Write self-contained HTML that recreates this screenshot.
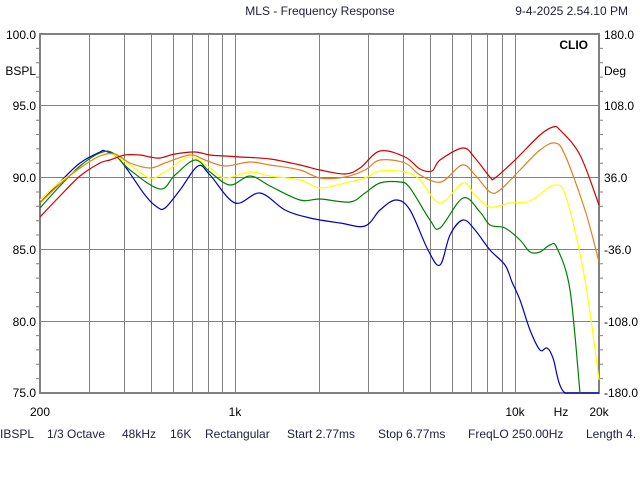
<!DOCTYPE html>
<html><head><meta charset="utf-8"><style>
html,body{margin:0;padding:0;background:#fff;}
svg{display:block;font-family:"Liberation Sans",sans-serif;}
</style></head><body>
<svg id="s" width="640" height="480" viewBox="0 0 640 480" xmlns="http://www.w3.org/2000/svg">
<rect width="640" height="480" fill="#fff"/>
<g fill="#000" font-size="12">
<text x="320" y="15" text-anchor="middle" fill="#202040">MLS - Frequency Response</text>
<text x="628" y="15" text-anchor="end" fill="#202040">9-4-2025 2.54.10 PM</text>
<text x="36" y="39" text-anchor="end">100.0</text>
<text x="36" y="75" text-anchor="end">BSPL</text>
<text x="36" y="110" text-anchor="end">95.0</text>
<text x="36" y="182" text-anchor="end">90.0</text>
<text x="36" y="254" text-anchor="end">85.0</text>
<text x="36" y="326" text-anchor="end">80.0</text>
<text x="36" y="397" text-anchor="end">75.0</text>
<text x="604" y="39">180.0</text>
<text x="604" y="75">Deg</text>
<text x="604" y="110">108.0</text>
<text x="604" y="182">36.0</text>
<text x="604" y="254">-36.0</text>
<text x="604" y="326">-108.0</text>
<text x="604" y="397">-180.0</text>
<text x="40" y="416" text-anchor="middle">200</text>
<text x="235" y="416" text-anchor="middle">1k</text>
<text x="515" y="416" text-anchor="middle">10k</text>
<text x="561" y="416" text-anchor="middle">Hz</text>
<text x="599" y="416" text-anchor="middle">20k</text>
<text x="0" y="438" fill="#202040">IBSPL</text>
<text x="47" y="438" fill="#202040">1/3 Octave</text>
<text x="122" y="438" fill="#202040">48kHz</text>
<text x="170" y="438" fill="#202040">16K</text>
<text x="205" y="438" fill="#202040">Rectangular</text>
<text x="287" y="438" fill="#202040">Start 2.77ms</text>
<text x="378" y="438" fill="#202040">Stop 6.77ms</text>
<text x="468" y="438" fill="#202040">FreqLO 250.00Hz</text>
<text x="586" y="438" fill="#202040">Length 4.</text>
</g>
<g stroke="#808080" stroke-width="1" fill="none">
<path d="M89.5 34V393M124.5 34V393M151.5 34V393M173.5 34V393M192.5 34V393M208.5 34V393M222.5 34V393M235.5 34V393M319.5 34V393M368.5 34V393M403.5 34V393M430.5 34V393M452.5 34V393M471.5 34V393M487.5 34V393M502.5 34V393M515.5 34V393"/>
<path d="M40 105.5H599M40 177.5H599M40 249.5H599M40 321.5H599"/>
<path d="M40 34H599V393H40Z" stroke-width="2"/>
<path d="M40 48.4h-4M40 62.7h-4M40 77.1h-4M40 91.4h-4M40 120.2h-4M40 134.5h-4M40 148.9h-4M40 163.2h-4M40 192h-4M40 206.3h-4M40 220.7h-4M40 235h-4M40 263.8h-4M40 278.1h-4M40 292.5h-4M40 306.8h-4M40 335.6h-4M40 349.9h-4M40 364.3h-4M40 378.6h-4M599 48.4h4M599 62.7h4M599 77.1h4M599 91.4h4M599 120.2h4M599 134.5h4M599 148.9h4M599 163.2h4M599 192h4M599 206.3h4M599 220.7h4M599 235h4M599 263.8h4M599 278.1h4M599 292.5h4M599 306.8h4M599 335.6h4M599 349.9h4M599 364.3h4M599 378.6h4"/>
</g>
<g id="curves" fill="none" stroke-width="1.2" stroke-linejoin="round">
<polyline stroke="#0000c0" points="40,203 60,182 80,163 100,152 105,151 120,160 145,195 157,207 165,208 180,190 198,166 210,175 235,203 260,193 285,210 310,218 340,223 365,226 380,210 396,200 410,210 428,250 440,265 450,235 463,220 475,230 490,250 505,265 512,282 520,300 530,330 540,350 547,348 553,358 565,393 599,393"/>
<polyline stroke="#008000" points="40,208 60,186 80,166 100,153 113,153 130,170 160,189 175,175 195,160 210,172 230,185 250,176 270,186 300,200 320,199 350,202 365,193 380,183 400,182 410,188 430,220 440,228 463,198 480,212 490,225 505,228 520,240 530,252 540,252 550,245 557,248 570,290 580,393"/>
<polyline stroke="#ffff00" points="40,200 60,182 80,168 100,156 112,154 130,165 150,178 165,172 190,157 210,168 225,178 250,172 270,176 300,180 320,188 345,183 365,178 380,171 405,172 420,180 440,203 463,183 475,195 490,207 510,203 530,201 555,185 567,200 585,280 599,380"/>
<polyline stroke="#e08020" points="40,203 60,184 80,168 100,156 115,154 130,163 150,168 165,163 190,155 205,160 225,166 250,162 270,165 300,170 320,178 345,177 365,170 380,160 405,163 420,175 441,182 462,165 475,175 490,192 500,190 520,170 540,150 555,143 565,155 585,210 599,262"/>
<polyline stroke="#d00000" points="40,217 60,196 80,176 100,163 110,160 125,155 140,155 150,157 160,158 175,154 195,152 210,155 225,156 240,157 270,159 300,165 320,170 345,174 360,168 380,151 405,157 420,169 432,171 440,160 463,148 475,158 490,177 495,178 515,160 540,135 553,127 560,130 580,155 599,205"/>
</g>
<text x="588" y="49" font-size="12" font-weight="bold" text-anchor="end" fill="#000" font-family="Liberation Sans, sans-serif">CLIO</text>
</svg>
<script>
(function(){
var NS="http://www.w3.org/2000/svg";
var pls=document.querySelectorAll('#curves polyline');
for(var i=0;i<pls.length;i++){
 var pl=pls[i];
 var pts=pl.getAttribute('points').trim().split(/\s+/).map(function(s){var a=s.split(',');return [+a[0],+a[1]];});
 var d='M'+pts[0][0]+' '+pts[0][1];
 for(var k=0;k<pts.length-1;k++){
  var p0=pts[k>0?k-1:k],p1=pts[k],p2=pts[k+1],p3=pts[k+2<pts.length?k+2:k+1];
  var c1x=p1[0]+(p2[0]-p0[0])/6,c1y=p1[1]+(p2[1]-p0[1])/6;
  var c2x=p2[0]-(p3[0]-p1[0])/6,c2y=p2[1]-(p3[1]-p1[1])/6;
  c1y=Math.min(c1y,393);c2y=Math.min(c2y,393);
  d+=' C'+c1x.toFixed(1)+' '+c1y.toFixed(1)+' '+c2x.toFixed(1)+' '+c2y.toFixed(1)+' '+p2[0]+' '+p2[1];
 }
 var p=document.createElementNS(NS,'path');
 p.setAttribute('d',d);p.setAttribute('stroke',pl.getAttribute('stroke'));
 pl.parentNode.replaceChild(p,pl);
}
})();
</script>
</body></html>
